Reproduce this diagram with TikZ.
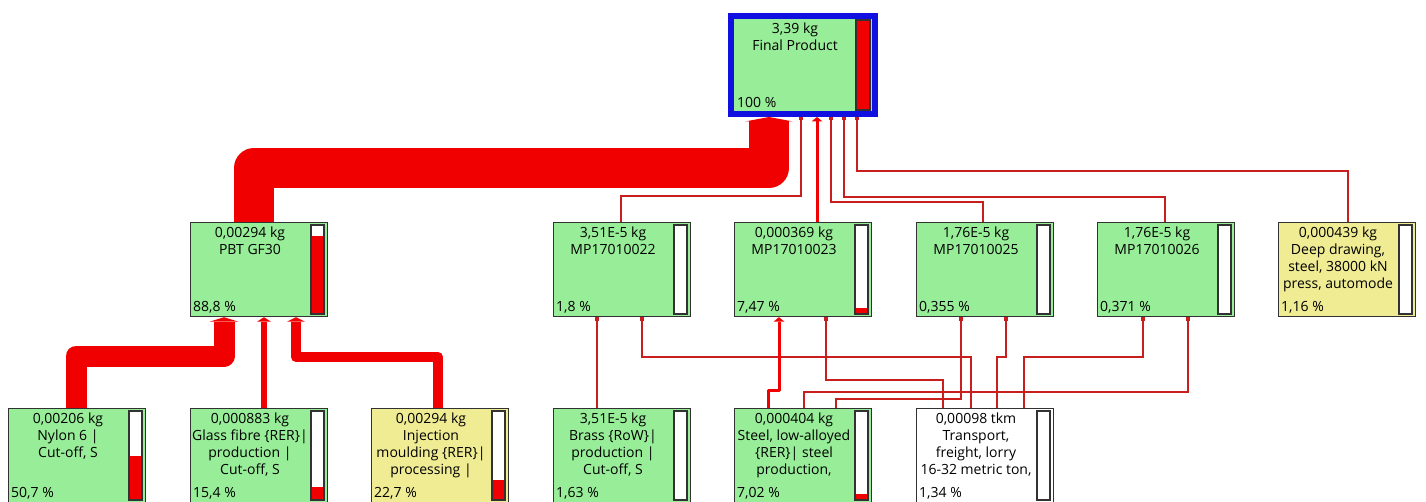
\documentclass[tikz,border=0pt]{standalone}
\usepackage{fontspec}
\setmainfont{Open Sans}
\usetikzlibrary{arrows.meta}

\definecolor{unitgreen}{RGB}{152,238,152}
\definecolor{unityellow}{RGB}{240,236,148}
\definecolor{frameblue}{RGB}{16,16,224}
\definecolor{flowred}{RGB}{240,0,0}
\definecolor{hairred}{RGB}{200,30,30}
\definecolor{boxline}{RGB}{50,50,50}

\tikzset{
  unit/.style={draw=boxline,line width=1.2pt,minimum width=137pt,minimum height=94pt,anchor=north west,inner sep=0pt},
  unitlabel/.style={anchor=north,align=center,inner sep=0pt},
  unitshare/.style={anchor=base west,inner sep=0pt},
  gauge/.style={draw=boxline,line width=1.5pt},
  link/.style={draw=hairred,line width=#1,-{Square[length=3.5pt,width=3.5pt,line width=0pt 0 0]}},
  link/.default=1.2pt,
  band/.style={draw=flowred,line width=#1,line join=round,-{Triangle[length=4.5pt,width=8pt 1,line width=0pt 0 0]}}
}

% name, x, y, colour, text, percent, share of the bar
\newcommand\unitbox[7]{%
  \node[unit,fill=#4] (#1) at (#2,#3) {};
  \node[unitlabel] (#1-l) at ([xshift=60,yshift=-5]#1.north west) {#5};
  \node[unitshare] (#1-s) at ([xshift=3,yshift=6]#1.south west) {#6};
  \fill[white] ([xshift=-17,yshift=-3]#1.north east) rectangle ([xshift=-4,yshift=3]#1.south east);
  \fill[flowred] ([xshift=-17,yshift=3]#1.south east) rectangle ([xshift=-4,yshift={3+88*#7}]#1.south east);
  \draw[gauge] ([xshift=-17,yshift=-3]#1.north east) rectangle ([xshift=-4,yshift=3]#1.south east);
}

\begin{document}
\begin{tikzpicture}[x=1pt,y=-1pt,font=\fontsize{14}{17}\selectfont]
\useasboundingbox (0,0) rectangle (1426,502);

% top
\node[unit,fill=unitgreen,draw=frameblue,line width=6pt,minimum width=144pt,minimum height=98pt] (fp) at (728,13) {};
\node[unitlabel] (fp-l) at ([xshift=67,yshift=-10]fp.north west) {3,39 kg\\Final Product};
\node[unitshare] (fp-s) at ([xshift=9,yshift=9]fp.south west) {100 \%};
\fill[flowred] ([xshift=-22,yshift=7]fp.south east) rectangle ([xshift=-8,yshift=97]fp.south east);
\draw[gauge] ([xshift=-22,yshift=7]fp.south east) rectangle ([xshift=-8,yshift=97]fp.south east);

% second row
\unitbox{pbt}{190}{222}{unitgreen}{0,00294 kg\\PBT GF30}{88,8 \%}{0.888}
\unitbox{mp22}{553}{222}{unitgreen}{3,51E-5 kg\\MP17010022}{1,8 \%}{0.018}
\unitbox{mp23}{734}{222}{unitgreen}{0,000369 kg\\MP17010023}{7,47 \%}{0.0747}
\unitbox{mp25}{916}{222}{unitgreen}{1,76E-5 kg\\MP17010025}{0,355 \%}{0.00355}
\unitbox{mp26}{1097}{222}{unitgreen}{1,76E-5 kg\\MP17010026}{0,371 \%}{0.00371}
\unitbox{deep}{1278}{222}{unityellow}{0,000439 kg\\Deep drawing,\\steel, 38000 kN\\press, automode}{1,16 \%}{0.0116}

% third row
\unitbox{nylon}{8}{408}{unitgreen}{0,00206 kg\\Nylon 6 |\\Cut-off, S}{50,7 \%}{0.507}
\unitbox{glass}{190}{408}{unitgreen}{0,000883 kg\\Glass fibre \{RER\}|\\production |\\Cut-off, S}{15,4 \%}{0.154}
\unitbox{inject}{371}{408}{unityellow}{0,00294 kg\\Injection\\moulding \{RER\}|\\processing |}{22,7 \%}{0.227}
\unitbox{brass}{553}{408}{unitgreen}{3,51E-5 kg\\Brass \{RoW\}|\\production |\\Cut-off, S}{1,63 \%}{0.0163}
\unitbox{steel}{734}{408}{unitgreen}{0,000404 kg\\Steel, low-alloyed\\\{RER\}| steel\\production,}{7,02 \%}{0.0702}
\unitbox{lorry}{916}{408}{white}{0,00098 tkm\\Transport,\\freight, lorry\\16-32 metric ton,}{1,34 \%}{0.0134}

% flows into the final product
\draw[band=40pt] ([xshift=64]pbt.north west) -- ++(0,-54) -| ([xshift=41]fp.south west);
\draw[link=1.6pt] ([xshift=68]mp22.north west) -- ++(0,-26) -| ([xshift=73]fp.south west);
\draw[band=3pt] ([xshift=83]mp23.north west) -- ([xshift=89]fp.south west);
\draw[link] ([xshift=67]mp25.north west) -- ++(0,-20) -| ([xshift=103]fp.south west);
\draw[link] ([xshift=68]mp26.north west) -- ++(0,-25) -| ([xshift=116]fp.south west);
\draw[link] ([xshift=70]deep.north west) -- ++(0,-51) -| ([xshift=129]fp.south west);

% flows into PBT GF30
\draw[band=21pt] ([xshift=68]nylon.north west) -- ++(0,-52) -| ([xshift=34]pbt.south west);
\draw[band=6pt] ([xshift=74]glass.north west) -- ([xshift=74]pbt.south west);
\draw[band=10pt] ([xshift=67]inject.north west) -- ++(0,-51) -| ([xshift=106]pbt.south west);

% flows into the parts
\draw[link] ([xshift=44]brass.north west) -- ([xshift=44]mp22.south west);
\draw[link] ([xshift=55]lorry.north west) -- ++(0,-51) -| ([xshift=89]mp22.south west);
\draw[band=3pt] ([xshift=34]steel.north west) -- ++(0,-18) -| ([xshift=45]mp23.south west);
\draw[link] ([xshift=27]lorry.north west) -- ++(0,-28) -| ([xshift=92]mp23.south west);
\draw[link] ([xshift=102]steel.north west) -- ++(0,-9) -| ([xshift=45]mp25.south west);
\draw[link] ([xshift=81]lorry.north west) -- ++(0,-51) -| ([xshift=90]mp25.south west);
\draw[link] ([xshift=70]steel.north west) -- ++(0,-16) -| ([xshift=91]mp26.south west);
\draw[link] ([xshift=108]lorry.north west) -- ++(0,-51) -| ([xshift=46]mp26.south west);
\end{tikzpicture}
\end{document}
